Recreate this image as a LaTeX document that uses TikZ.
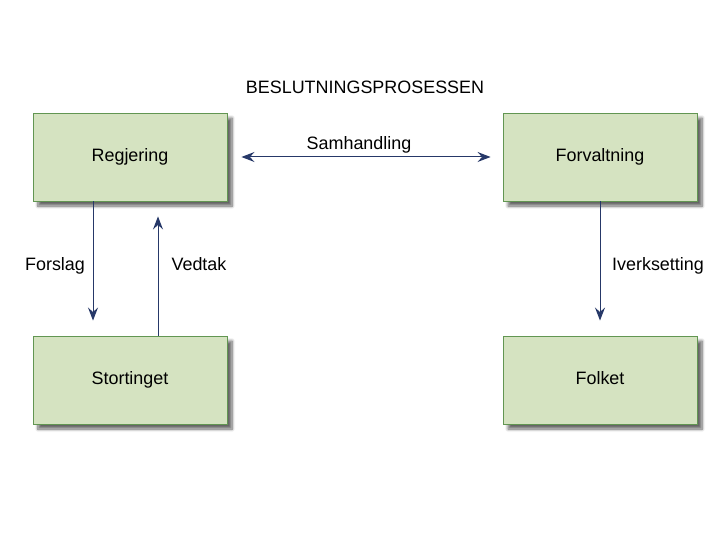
\documentclass[tikz,border=0pt]{standalone}
\usepackage{fontspec}
\setmainfont{Liberation Sans}
\usetikzlibrary{arrows.meta,shadows.blur}
\definecolor{boxfill}{RGB}{213,227,193}
\definecolor{boxline}{RGB}{98,150,82}
\definecolor{arrowblue}{RGB}{38,56,104}
\begin{document}
\begin{tikzpicture}[
  x=1bp, y=-1bp,
  box/.style={rectangle, draw=boxline, line width=0.9bp, fill=boxfill, minimum width=194bp, minimum height=88bp, inner sep=0pt,
    font=\fontsize{18}{20}\selectfont, text height=12.5bp, text depth=3.5bp,
    blur shadow={shadow xshift=5bp, shadow yshift=-5bp, shadow opacity=60, shadow blur steps=8, shadow blur radius=3bp}},
  flow/.style={-{Stealth[length=13bp,width=10bp,inset=4.5bp]}, line width=1bp, arrowblue},
  twoway/.style={{Stealth[length=13bp,width=10bp,inset=4.5bp]}-{Stealth[length=13bp,width=10bp,inset=4.5bp]}, line width=1bp, arrowblue},
  txt/.style={font=\fontsize{18}{20}\selectfont, inner sep=0pt, text height=12.5bp, text depth=3.5bp},
]
\useasboundingbox (0,0) rectangle (720,540);

% Title
\node[txt] (title) at (365,89) {BESLUTNINGSPROSESSEN};

% Boxes
\node[box] (regjering) at (130,157) {Regjering};
\node[box] (forvaltning) at (600,157) {Forvaltning};
\node[box] (stortinget) at (130,380) {Stortinget};
\node[box] (folket) at (600,380) {Folket};

% Arrows
\draw[twoway, shorten <=14bp, shorten >=12bp] (regjering.east) -- (forvaltning.west);
\draw[flow, shorten >=15bp] ([xshift=-37bp]regjering.south) -- ([xshift=-37bp]stortinget.north);
\draw[flow, shorten >=15bp] ([xshift=28bp]stortinget.north) -- ([xshift=28bp]regjering.south);
\draw[flow, shorten >=15bp] (forvaltning.south) -- (folket.north);

% Labels
\node[txt] (samhandling) at (359,145) {Samhandling};
\node[txt] (forslag) at (55,266) {Forslag};
\node[txt] (vedtak) at (199,266) {Vedtak};
\node[txt] (iverksetting) at (658,266) {Iverksetting};
\end{tikzpicture}
\end{document}
